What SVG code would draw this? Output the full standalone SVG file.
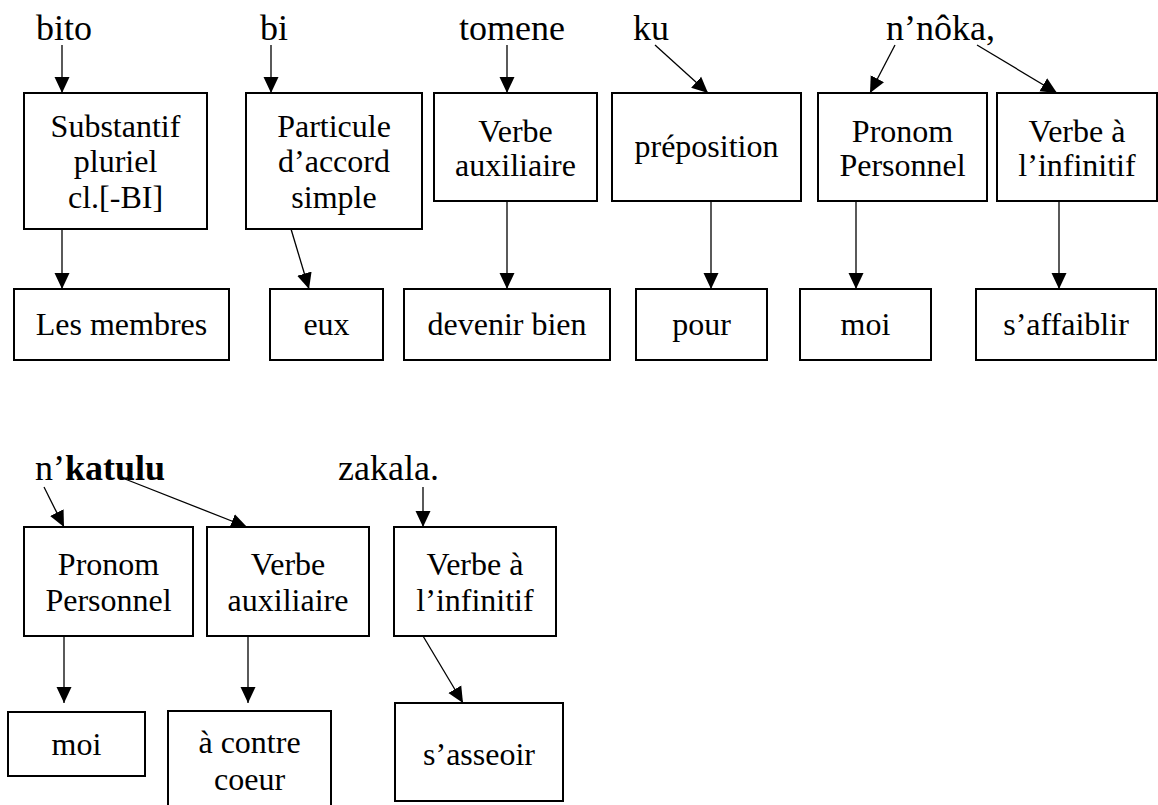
<svg xmlns="http://www.w3.org/2000/svg" width="1158" height="805" viewBox="0 0 1158 805">
<style>
  .box { fill: #ffffff; stroke: #000000; stroke-width: 2; }
  .t { font-size: 32px; fill: #000; text-anchor: middle; }
  .w { font-size: 36px; fill: #000; }
  .c { stroke: #000; stroke-width: 1.3; fill: none; marker-end: url(#ah); }
</style>
<defs>
  <marker id="ah" markerUnits="userSpaceOnUse" viewBox="0 0 16 16" markerWidth="16" markerHeight="16" refX="16" refY="8" orient="auto">
    <path d="M0,0.5 L16,8 L0,15.5 z" fill="#000"/>
  </marker>
</defs>
<rect width="1158" height="805" fill="#ffffff"/>

<g font-family="'Liberation Serif', 'DejaVu Serif', 'Noto Serif', Tinos, serif">
<g id="words">
  <text class="w" x="36" y="40">bito</text>
  <text class="w" x="260" y="40">bi</text>
  <text class="w" x="459" y="40">tomene</text>
  <text class="w" x="633" y="40">ku</text>
  <text class="w" x="886" y="40">n’nôka,</text>
  <text class="w" x="35" y="480">n’<tspan font-weight="bold">katulu</tspan></text>
  <text class="w" x="338" y="480">zakala.</text>
</g>

<g id="connectors">
  <line class="c" x1="62" y1="45" x2="62" y2="93"/>
  <line class="c" x1="271" y1="45" x2="271" y2="93"/>
  <line class="c" x1="507" y1="45" x2="507" y2="93"/>
  <line class="c" x1="655" y1="45" x2="708" y2="93"/>
  <line class="c" x1="895" y1="45" x2="870" y2="93"/>
  <line class="c" x1="977" y1="45" x2="1057" y2="93"/>

  <line class="c" x1="62" y1="229" x2="62" y2="289"/>
  <line class="c" x1="291" y1="229" x2="309" y2="289"/>
  <line class="c" x1="507" y1="201" x2="507" y2="289"/>
  <line class="c" x1="711" y1="201" x2="711" y2="289"/>
  <line class="c" x1="856" y1="201" x2="856" y2="289"/>
  <line class="c" x1="1059" y1="201" x2="1059" y2="289"/>

  <line class="c" x1="44" y1="487" x2="64" y2="527"/>
  <line class="c" x1="125" y1="479" x2="247" y2="527"/>
  <line class="c" x1="423" y1="487" x2="423" y2="527"/>

  <line class="c" x1="64" y1="636" x2="64" y2="703"/>
  <line class="c" x1="248" y1="636" x2="248" y2="703"/>
  <line class="c" x1="423" y1="636" x2="463" y2="703"/>
</g>

<g id="n-substantif">
  <rect class="box" x="24" y="93" width="183" height="136"/>
  <text class="t" x="115.5" y="137">Substantif</text>
  <text class="t" x="115.5" y="172">pluriel</text>
  <text class="t" x="115.5" y="208">cl.[-BI]</text>
</g>
<g id="n-particule">
  <rect class="box" x="246" y="93" width="176" height="136"/>
  <text class="t" x="334" y="137">Particule</text>
  <text class="t" x="334" y="172">d’accord</text>
  <text class="t" x="334" y="208">simple</text>
</g>
<g id="n-verbe-aux-1">
  <rect class="box" x="434" y="93" width="163" height="108"/>
  <text class="t" x="515.5" y="142">Verbe</text>
  <text class="t" x="515.5" y="176">auxiliaire</text>
</g>
<g id="n-preposition">
  <rect class="box" x="612" y="93" width="189" height="108"/>
  <text class="t" x="706.5" y="157">préposition</text>
</g>
<g id="n-pronom-1">
  <rect class="box" x="818" y="93" width="169" height="108"/>
  <text class="t" x="902.5" y="142">Pronom</text>
  <text class="t" x="902.5" y="176">Personnel</text>
</g>
<g id="n-verbe-inf-1">
  <rect class="box" x="997" y="93" width="160" height="108"/>
  <text class="t" x="1077" y="142">Verbe à</text>
  <text class="t" x="1077" y="176">l’infinitif</text>
</g>

<g id="n-les-membres">
  <rect class="box" x="14" y="289" width="215" height="71"/>
  <text class="t" x="121.5" y="335">Les membres</text>
</g>
<g id="n-eux">
  <rect class="box" x="270" y="289" width="113" height="71"/>
  <text class="t" x="326.5" y="335">eux</text>
</g>
<g id="n-devenir-bien">
  <rect class="box" x="404" y="289" width="206" height="71"/>
  <text class="t" x="507" y="335">devenir bien</text>
</g>
<g id="n-pour">
  <rect class="box" x="636" y="289" width="131" height="71"/>
  <text class="t" x="701.5" y="335">pour</text>
</g>
<g id="n-moi-1">
  <rect class="box" x="800" y="289" width="131" height="71"/>
  <text class="t" x="865.5" y="335">moi</text>
</g>
<g id="n-affaiblir">
  <rect class="box" x="976" y="289" width="180" height="71"/>
  <text class="t" x="1066" y="335">s’affaiblir</text>
</g>

<g id="n-pronom-2">
  <rect class="box" x="24" y="527" width="169" height="109"/>
  <text class="t" x="108.5" y="575">Pronom</text>
  <text class="t" x="108.5" y="611">Personnel</text>
</g>
<g id="n-verbe-aux-2">
  <rect class="box" x="207" y="527" width="162" height="109"/>
  <text class="t" x="288" y="575">Verbe</text>
  <text class="t" x="288" y="611">auxiliaire</text>
</g>
<g id="n-verbe-inf-2">
  <rect class="box" x="394" y="527" width="162" height="109"/>
  <text class="t" x="475" y="575">Verbe à</text>
  <text class="t" x="475" y="611">l’infinitif</text>
</g>

<g id="n-moi-2">
  <rect class="box" x="8" y="712" width="137" height="64"/>
  <text class="t" x="76.5" y="755">moi</text>
</g>
<g id="n-contre-coeur">
  <rect class="box" x="168" y="711" width="163" height="110"/>
  <text class="t" x="249.5" y="753">à contre</text>
  <text class="t" x="249.5" y="790">coeur</text>
</g>
<g id="n-asseoir">
  <rect class="box" x="395" y="703" width="168" height="98"/>
  <text class="t" x="479" y="765">s’asseoir</text>
</g>
</g>
</svg>
